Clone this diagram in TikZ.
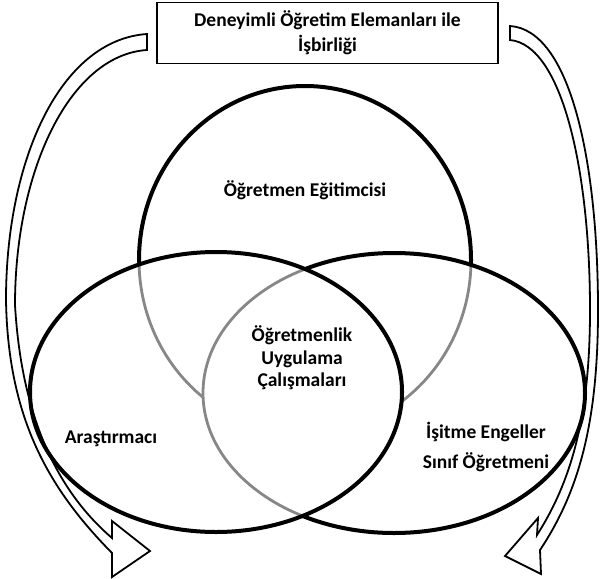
\documentclass[tikz,border=0pt]{standalone}
\usepackage{fontspec}
\setmainfont{Carlito}
\definecolor{midgray}{RGB}{135,135,135}
\begin{document}
\begin{tikzpicture}[x=1pt,y=-1pt,
  ring/.style={line width=4pt, draw=black},
  ringgray/.style={line width=2.8pt, draw=midgray},
  curvedarrow/.style={line width=1.8pt, draw=black, line join=miter},
  lbl/.style={inner sep=0pt, align=center}]
\useasboundingbox (0,0) rectangle (601,578);
% top circle, black outside the lower ellipses
\draw[ring] (305,260) ellipse [x radius=166, y radius=174];
\fill[white] (216,392) ellipse [x radius=186, y radius=140];
\fill[white] (394,393) ellipse [x radius=191, y radius=140];
% top circle, gray inside exactly one lower ellipse
\begin{scope}[even odd rule]
  \clip (216,392) ellipse [x radius=186, y radius=140]
        (394,393) ellipse [x radius=191, y radius=140];
  \draw[ringgray] (305,260) ellipse [x radius=166, y radius=174];
\end{scope}
% right ellipse: gray inside the left one, black elsewhere
\begin{scope}
  \clip (216,392) ellipse [x radius=186, y radius=140];
  \draw[ringgray] (394,393) ellipse [x radius=191, y radius=140];
\end{scope}
\begin{scope}[even odd rule]
  \clip (-20,-20) rectangle (621,598)
        (216,392) ellipse [x radius=186, y radius=140];
  \draw[ring] (394,393) ellipse [x radius=191, y radius=140];
\end{scope}
% left ellipse
\draw[ring] (216,392) ellipse [x radius=186, y radius=140];
% box
\node[draw, line width=1.2pt, minimum width=341pt, minimum height=61pt, inner sep=0pt,
      align=center, font=\bfseries\fontsize{19.5}{25}\selectfont] (collab) at (327.5,33)
      {Deneyimli Öğretim Elemanları ile\\İşbirliği};
% labels
\node[lbl, font=\bfseries\fontsize{19.5}{23}\selectfont] (educator) at (305,190) {Öğretmen Eğitimcisi};
\node[lbl, font=\bfseries\fontsize{19.5}{22.5}\selectfont] (practice) at (302,358) {Öğretmenlik\\Uygulama\\Çalışmaları};
\node[lbl, font=\bfseries\fontsize{19.5}{23}\selectfont] (researcher) at (111,439) {Araştırmacı};
\node[lbl, font=\bfseries\fontsize{19.5}{30}\selectfont] (classteacher) at (486,447) {İşitme Engeller\\Sınıf Öğretmeni};
% curved arrows
\draw[curvedarrow] (147,34) .. controls (60,40) and (6,160) .. (6,300)
   .. controls (8,420) and (50,490) .. (112,553) -- (112,577) -- (150,551) -- (112,521) -- (112,538)
   .. controls (62,495) and (22,425) .. (15,305)
   .. controls (15,170) and (70,55) .. (147,50) -- cycle;
\draw[curvedarrow] (510,26) .. controls (570,30) and (598,160) .. (598,310)
   .. controls (598,420) and (580,490) .. (540,550) -- (541,574) -- (505,556) -- (538,518) -- (537,535)
   .. controls (572,480) and (590,415) .. (590,310)
   .. controls (590,170) and (562,45) .. (510,40) -- cycle;
\end{tikzpicture}
\end{document}
